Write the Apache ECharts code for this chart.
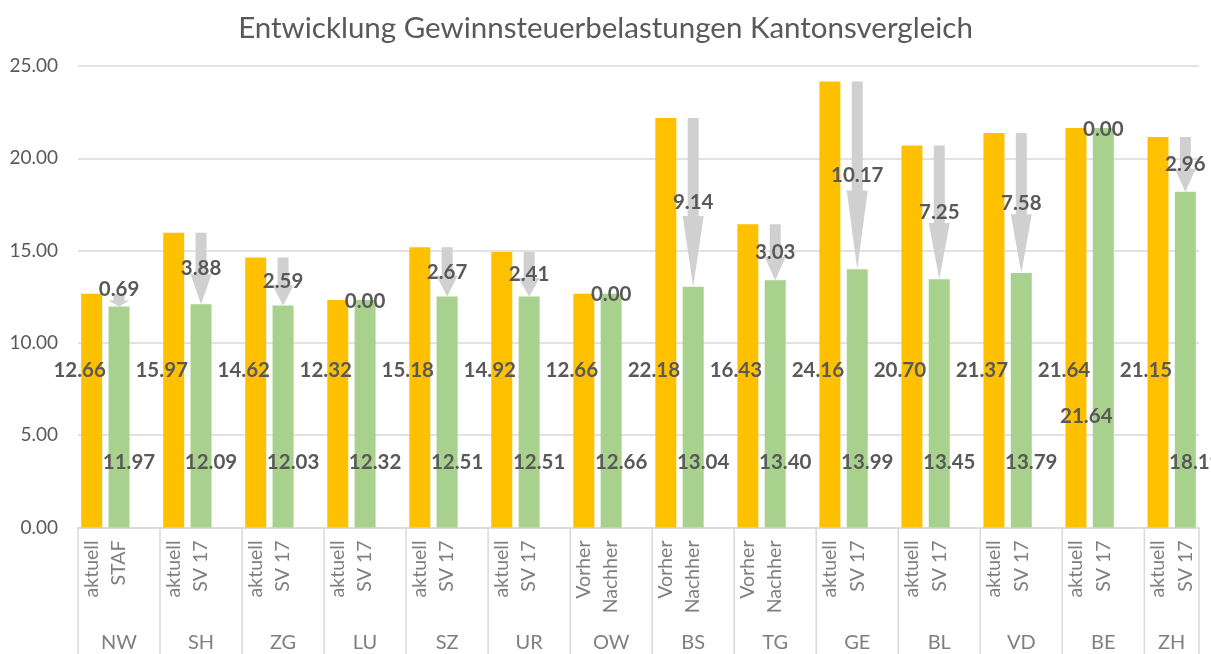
<!DOCTYPE html>
<html>
<head>
<meta charset="utf-8">
<script src="https://cdn.jsdelivr.net/npm/echarts@6/dist/echarts.min.js"></script>
<style>html,body{margin:0;padding:0;background:#fff}#c{width:1211px;height:654px}</style>
</head>
<body>
<div id="c"></div>
<script>
const titleText = 'Entwicklung Gewinnsteuerbelastungen Kantonsvergleich';
const cantons = ['NW','SH','ZG','LU','SZ','UR','OW','BS','TG','GE','BL','VD','BE','ZH'];
const beforeLabels = ['aktuell','aktuell','aktuell','aktuell','aktuell','aktuell','Vorher','Vorher','Vorher','aktuell','aktuell','aktuell','aktuell','aktuell'];
const afterLabels = ['STAF','SV 17','SV 17','SV 17','SV 17','SV 17','Nachher','Nachher','Nachher','SV 17','SV 17','SV 17','SV 17','SV 17'];
const beforeValues = [12.66,15.97,14.62,12.32,15.18,14.92,12.66,22.18,16.43,24.16,20.70,21.37,21.64,21.15];
const afterValues = [11.97,12.09,12.03,12.32,12.51,12.51,12.66,13.04,13.40,13.99,13.45,13.79,21.64,18.19];
const reductions = [0.69,3.88,2.59,0.00,2.67,2.41,0.00,9.14,3.03,10.17,7.25,7.58,0.00,2.96];
const yMin = 0, yMax = 25, yInterval = 5;

// layout (not data)
const YELLOW = '#FFC000', GREEN = '#A9D18E', ARROW = '#D0D0D0';
const TEXT = '#595959', AXIS_TEXT = '#7F7F7F', LINE = '#D9D9D9';
const FONT = 'Lato, "Open Sans", sans-serif';
const beforeLabelLevel = 8.5, afterLabelLevel = 3.5;
const labelOverrides = { BE: { after: { dx: -17, level: 6 } } };

// build slots: 3 per canton (before, after, gap), last canton has no gap
const n = cantons.length;
const categories = [];
const beforeSeries = [], afterSeries = [];
const slotOf = [];
cantons.forEach((c, i) => {
  const s = categories.length;
  slotOf.push(s);
  categories.push(beforeLabels[i]); beforeSeries.push(beforeValues[i]); afterSeries.push(null);
  categories.push(afterLabels[i]); beforeSeries.push(null); afterSeries.push(afterValues[i]);
  if (i < n - 1) { categories.push(''); beforeSeries.push(null); afterSeries.push(null); }
});

const arrowData = cantons.map((c, i) => [slotOf[i] + 1, beforeValues[i], afterValues[i], reductions[i]]);
const valueLabelData = [];
cantons.forEach((c, i) => {
  valueLabelData.push([slotOf[i], beforeLabelLevel, beforeValues[i], 0, i]);
  valueLabelData.push([slotOf[i] + 1, afterLabelLevel, afterValues[i], 1, i]);
});
const groupData = cantons.map((c, i) => [slotOf[i], 0, i < n - 1 ? slotOf[i] + 2 : slotOf[i] + 1, i]);

const chart = echarts.init(document.getElementById('c'), null, { renderer: 'canvas' });
chart.setOption({
  animation: false,
  backgroundColor: '#fff',
  title: {
    text: titleText, left: 'center', top: 8,
    textStyle: { fontFamily: FONT, fontSize: 29.5, fontWeight: 'normal', color: TEXT }
  },
  grid: { left: 78, right: 12, top: 66, bottom: 126.5, containLabel: false },
  xAxis: {
    type: 'category', data: categories,
    axisLine: { lineStyle: { color: LINE, width: 1.5 } },
    axisTick: { show: false },
    axisLabel: { interval: 0, rotate: 90, margin: 13, fontFamily: FONT, fontSize: 19.5, color: AXIS_TEXT },
    splitLine: { show: false }
  },
  yAxis: {
    type: 'value', min: yMin, max: yMax, interval: yInterval,
    axisLine: { show: false }, axisTick: { show: false },
    axisLabel: { margin: 20, fontFamily: FONT, fontSize: 19, color: TEXT, formatter: v => v.toFixed(2) },
    splitLine: { lineStyle: { color: LINE, width: 1.5 } }
  },
  series: [
    { type: 'bar', name: 'vorher', data: beforeSeries, barWidth: 21, barGap: '-100%', itemStyle: { color: YELLOW }, z: 2 },
    { type: 'bar', name: 'nachher', data: afterSeries, barWidth: 21, barGap: '-100%', itemStyle: { color: GREEN }, z: 2 },
    {
      type: 'custom', name: 'arrows', data: arrowData, z: 4, clip: false,
      encode: { x: 0, y: 1 },
      renderItem: (params, api) => {
        const x = api.value(0);
        const p1 = api.coord([x, api.value(1)]);
        const p2 = api.coord([x, api.value(2)]);
        const red = api.value(3);
        const cx = p1[0], y1 = p1[1], y2 = p2[1];
        const len = y2 - y1;
        const children = [];
        if (len > 0.5) {
          const hl = Math.max(len * 0.42, Math.min(len, 6));
          const yh = y2 - hl;
          children.push({
            type: 'polygon',
            shape: { points: [[cx - 5.5, y1], [cx + 5.5, y1], [cx + 5.5, yh], [cx + 10.5, yh], [cx, y2], [cx - 10.5, yh], [cx - 5.5, yh]] },
            style: { fill: ARROW }
          });
        }
        let ty;
        if (len <= 0.5) ty = y1 + 1;
        else if (len < 20) ty = y1 - 4;
        else ty = (y1 + y2) / 2;
        children.push({
          type: 'text', z2: 10,
          style: { text: red.toFixed(2), x: cx, y: ty, align: 'center', verticalAlign: 'middle',
            fontFamily: FONT, fontSize: 20.5, fontWeight: 'bold', fill: TEXT }
        });
        return { type: 'group', children };
      }
    },
    {
      type: 'custom', name: 'valueLabels', data: valueLabelData, z: 5, clip: false,
      encode: { x: 0, y: 1 },
      renderItem: (params, api) => {
        const slot = api.value(0);
        const kind = api.value(3);
        const ci = api.value(4);
        let level = api.value(1);
        let dx = kind === 0 ? -12 : 10;
        const ov = labelOverrides[cantons[ci]];
        if (ov && kind === 1 && ov.after) { dx = ov.after.dx; level = ov.after.level; }
        const p = api.coord([slot, level]);
        return {
          type: 'text',
          style: { text: api.value(2).toFixed(2), x: p[0] + dx, y: p[1], align: 'center', verticalAlign: 'middle',
            fontFamily: FONT, fontSize: 20.5, fontWeight: 'bold', fill: TEXT }
        };
      }
    },
    {
      type: 'custom', name: 'groups', data: groupData, z: 1, clip: false, silent: true,
      encode: { x: 0, y: 1 },
      renderItem: (params, api) => {
        const s = api.value(0), e = api.value(2), gi = api.value(3);
        const bw = api.size([1, 0])[0];
        const ps = api.coord([s, 0]);
        const pe = api.coord([e, 0]);
        const left = ps[0] - bw / 2, right = pe[0] + bw / 2;
        const top = ps[1], bottom = api.getHeight();
        const children = [
          { type: 'line', shape: { x1: left, y1: top, x2: left, y2: bottom }, style: { stroke: LINE, lineWidth: 1.5 } },
          { type: 'text', style: { text: cantons[gi], x: (left + right) / 2, y: 643, align: 'center', verticalAlign: 'middle',
              fontFamily: FONT, fontSize: 20, fill: AXIS_TEXT } }
        ];
        if (gi === n - 1) {
          children.push({ type: 'line', shape: { x1: right, y1: top, x2: right, y2: bottom }, style: { stroke: LINE, lineWidth: 1.5 } });
        }
        return { type: 'group', children };
      }
    }
  ]
});
</script>
</body>
</html>
